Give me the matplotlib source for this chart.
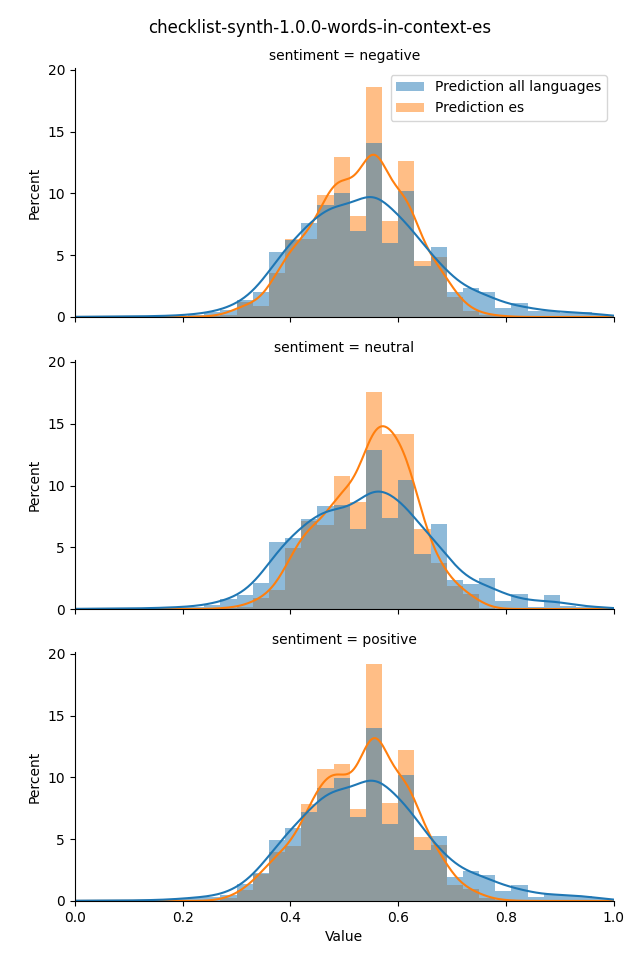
import matplotlib.pyplot as plt
import numpy as np

# bin edges are multiples of 0.03 (left edges 0.00 .. 0.96)
bin_width = 0.03
bin_left = [round(i * bin_width, 2) for i in range(33)]

panels = ["negative", "neutral", "positive"]
labels = ["Prediction all languages", "Prediction es"]

# percent per bin
neg_all = [0.03, 0.02, 0.03, 0.04, 0.06, 0.08, 0.12, 0.2, 0.4, 0.6, 1.4,
           2.0, 5.25, 6.2, 7.6, 9.05, 10.0, 7.0, 14.1, 6.0, 10.2, 4.15,
           5.65, 2.05, 2.35, 2.0, 0.75, 1.1, 0.5, 0.5, 0.35, 0.38, 0.25]
neg_es = [0, 0, 0, 0, 0, 0, 0, 0, 0.05, 0.2, 1.2,
          0.9, 3.6, 6.3, 6.3, 9.9, 12.95, 8.2, 18.6, 7.8, 12.6, 4.5,
          4.85, 1.65, 0.5, 0.2, 0.05, 0, 0, 0, 0, 0, 0]
neu_all = [0.03, 0.02, 0.03, 0.04, 0.06, 0.1, 0.15, 0.2, 0.35, 0.8, 1.1,
           2.1, 5.4, 5.75, 7.25, 8.35, 8.4, 6.5, 12.9, 7.4, 10.45, 4.45,
           6.9, 2.35, 2.0, 2.5, 0.65, 1.2, 0.15, 1.1, 0.24, 0.2, 0.2]
neu_es = [0, 0, 0, 0, 0, 0, 0, 0, 0, 0.1, 0.2,
          0.9, 1.5, 4.95, 7.1, 6.8, 10.75, 8.65, 17.55, 14.15, 14.15, 6.5,
          3.75, 1.9, 1.2, 0.05, 0, 0, 0, 0, 0, 0, 0]
pos_all = [0.05, 0.03, 0.03, 0.04, 0.06, 0.08, 0.15, 0.3, 0.35, 0.5, 1.35,
           2.3, 4.95, 5.9, 7.2, 9.15, 9.95, 6.8, 14.0, 6.25, 10.2, 4.15,
           5.25, 1.95, 2.45, 2.1, 0.8, 1.3, 0.32, 0.57, 0.49, 0.4, 0.24]
pos_es = [0, 0, 0, 0, 0, 0, 0, 0, 0, 0.2, 0.9,
          2.2, 3.97, 4.45, 7.85, 10.7, 11.1, 7.45, 19.2, 7.95, 12.25, 5.2,
          4.55, 1.3, 1.0, 0.2, 0.05, 0, 0, 0, 0, 0, 0]

data = {
    "negative": (neg_all, neg_es),
    "neutral": (neu_all, neu_es),
    "positive": (pos_all, pos_es),
}

# kde bandwidths for the smoothed lines
bw_all = 0.034
bw_es = 0.026

colors = ["#1f77b4", "#ff7f0e"]


def kde_percent(pct, bw, grid):
    centers = np.array(bin_left) + bin_width / 2
    w = np.array(pct) / np.sum(pct)
    z = (grid[:, None] - centers[None, :]) / bw
    dens = (w * np.exp(-0.5 * z**2)).sum(axis=1) / (bw * np.sqrt(2 * np.pi))
    return dens * bin_width * 100


ymax = max(max(max(a), max(b)) for a, b in data.values()) * 1.05

fig = plt.figure(figsize=(6.4, 9.6), dpi=100)
bottoms = [0.6698, 0.3656, 0.0615]
grid = np.linspace(0, 1, 300)
axes = []
for k, name in enumerate(panels):
    ax = fig.add_axes([0.117, bottoms[k], 0.842, 0.2594])
    axes.append(ax)
    vals_all, vals_es = data[name]
    # seaborn layers the later hue level underneath
    ax.bar(bin_left, vals_es, width=bin_width, align="edge",
           color=colors[1], alpha=0.5, linewidth=0, label=labels[1])
    ax.bar(bin_left, vals_all, width=bin_width, align="edge",
           color=colors[0], alpha=0.5, linewidth=0, label=labels[0])
    ax.plot(grid, kde_percent(vals_es, bw_es, grid), color=colors[1], lw=1.5)
    ax.plot(grid, kde_percent(vals_all, bw_all, grid), color=colors[0], lw=1.5)

    ax.set_xlim(0, 1)
    ax.set_ylim(0, ymax)
    ax.set_yticks([0, 5, 10, 15, 20])
    ax.set_xticks([0, 0.2, 0.4, 0.6, 0.8, 1.0])
    ax.spines["top"].set_visible(False)
    ax.spines["right"].set_visible(False)
    ax.set_ylabel("Percent")
    ax.set_title(f"sentiment = {name}", fontsize=10)
    if k < 2:
        ax.tick_params(labelbottom=False)
    else:
        ax.set_xlabel("Value")

h, l = axes[0].get_legend_handles_labels()
axes[0].legend(h[::-1], l[::-1], loc="upper right")

fig.suptitle("checklist-synth-1.0.0-words-in-context-es", fontsize=12, y=0.98)

fig.savefig("out.png", dpi=100)
